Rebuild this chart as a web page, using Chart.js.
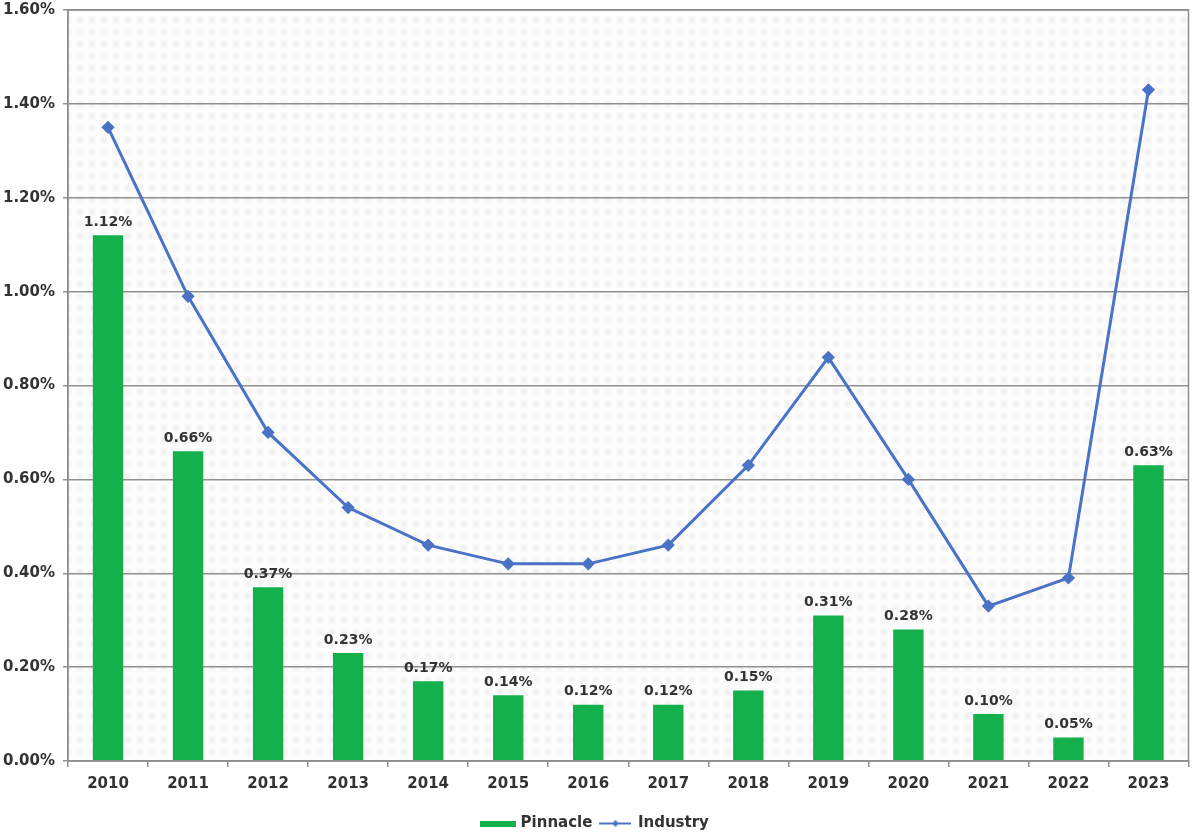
<!DOCTYPE html>
<html>
<head>
<meta charset="utf-8">
<title>Pinnacle vs Industry</title>
<script src="https://cdn.jsdelivr.net/npm/chart.js@4.4.1/dist/chart.umd.min.js"></script>
<style>
    html, body { margin: 0; padding: 0; background: #fff; }
    #wrap { width: 1196px; height: 833px; }
</style>
</head>
<body>
<div id="wrap"><canvas id="chart" width="1196" height="833"></canvas></div>
<script>
const years = ['2010', '2011', '2012', '2013', '2014', '2015', '2016', '2017', '2018', '2019', '2020', '2021', '2022', '2023'];
const pinnacle = [1.12, 0.66, 0.37, 0.23, 0.17, 0.14, 0.12, 0.12, 0.15, 0.31, 0.28, 0.10, 0.05, 0.63];
const industry = [1.35, 0.99, 0.70, 0.54, 0.46, 0.42, 0.42, 0.46, 0.63, 0.86, 0.60, 0.33, 0.39, 1.43];

const GREEN = '#13b04b';
const BLUE = '#4a72c6';
const TEXT = '#333333';
const GRID = '#8f8f8f';
const FONT = "'DejaVu Sans', Verdana, sans-serif";

// faint checkered texture behind the plot
function makePattern(ctx) {
    const tile = document.createElement('canvas');
    tile.width = 12;
    tile.height = 12;
    const t = tile.getContext('2d');
    t.fillStyle = '#f8f8f8';
    t.fillRect(0, 0, 12, 12);
    t.fillStyle = '#fdfdfd';
    t.fillRect(0, 0, 12, 4);
    t.fillRect(0, 0, 4, 12);
    t.fillStyle = '#f2f2f2';
    t.fillRect(6, 6, 4, 4);
    return ctx.createPattern(tile, 'repeat');
}

// legend symbols
function barSymbol() {
    const c = document.createElement('canvas');
    c.width = 36; c.height = 6;
    const g = c.getContext('2d');
    g.fillStyle = GREEN;
    g.fillRect(0, 0, 36, 6);
    return c;
}
function lineSymbol() {
    const c = document.createElement('canvas');
    c.width = 32; c.height = 8;
    const g = c.getContext('2d');
    g.strokeStyle = BLUE;
    g.lineWidth = 2;
    g.beginPath(); g.moveTo(0, 4); g.lineTo(32, 4); g.stroke();
    g.fillStyle = BLUE;
    g.beginPath(); g.moveTo(16, 0.5); g.lineTo(19.5, 4); g.lineTo(16, 7.5); g.lineTo(12.5, 4); g.closePath(); g.fill();
    return c;
}
const legendSymbols = [barSymbol(), lineSymbol()];

const plotBackground = {
    id: 'plotBackground',
    beforeDraw(chart) {
        const { ctx, chartArea: a } = chart;
        ctx.save();
        ctx.fillStyle = makePattern(ctx);
        ctx.fillRect(a.left, a.top, a.right - a.left, a.bottom - a.top);
        ctx.restore();
    },
    afterDraw(chart) {
        const { ctx, chartArea: a } = chart;
        ctx.save();
        ctx.strokeStyle = GRID;
        ctx.lineWidth = 1.5;
        ctx.strokeRect(a.left, a.top, a.right - a.left, a.bottom - a.top);
        ctx.restore();
    }
};

// percentage labels above each bar
const barLabels = {
    id: 'barLabels',
    afterDatasetsDraw(chart) {
        const { ctx } = chart;
        const meta = chart.getDatasetMeta(0);
        ctx.save();
        ctx.font = 'bold 14px ' + FONT;
        ctx.fillStyle = TEXT;
        ctx.textAlign = 'center';
        ctx.textBaseline = 'bottom';
        meta.data.forEach((bar, i) => {
            ctx.fillText(pinnacle[i].toFixed(2) + '%', bar.x, bar.y - 6);
        });
        ctx.restore();
    }
};

new Chart(document.getElementById('chart'), {
    type: 'bar',
    data: {
        labels: years,
        datasets: [{
            type: 'bar',
            label: 'Pinnacle',
            data: pinnacle,
            backgroundColor: GREEN,
            barPercentage: 0.38,
            categoryPercentage: 1,
            order: 2
        }, {
            type: 'line',
            label: 'Industry',
            data: industry,
            borderColor: BLUE,
            backgroundColor: BLUE,
            borderWidth: 3,
            pointStyle: 'rectRot',
            pointRadius: 4.5,
            pointHoverRadius: 4.5,
            tension: 0,
            order: 1
        }]
    },
    options: {
        responsive: false,
        animation: false,
        layout: { padding: { top: 10, right: 4, left: 0, bottom: -8 } },
        scales: {
            x: {
                offset: true,
                grid: { display: true, offset: true, drawOnChartArea: false, tickLength: 6, color: GRID, lineWidth: 1.5 },
                border: { color: GRID, width: 1.5 },
                ticks: { color: TEXT, font: { family: FONT, size: 15, weight: 'bold' }, padding: 8 },
                afterFit(scale) { scale.height = 47; scale.paddingLeft = 0; scale.paddingRight = 0; }
            },
            y: {
                min: 0,
                max: 1.6,
                ticks: {
                    stepSize: 0.2,
                    color: TEXT,
                    font: { family: FONT, size: 15, weight: 'bold' },
                    padding: 8,
                    callback: v => v.toFixed(2) + '%'
                },
                grid: { color: GRID, lineWidth: 1.5, tickLength: 5 },
                border: { color: GRID, width: 1.5 },
                afterFit(scale) { scale.width = 68; scale.paddingTop = 0; scale.paddingBottom = 0; }
            }
        },
        plugins: {
            legend: {
                position: 'bottom',
                labels: {
                    usePointStyle: true,
                    pointStyleWidth: 30,
                    color: TEXT,
                    font: { family: FONT, size: 15, weight: 'bold' },
                    padding: 8,
                    generateLabels(chart) {
                        const items = Chart.defaults.plugins.legend.labels.generateLabels(chart);
                        items.sort((a, b) => a.datasetIndex - b.datasetIndex);
                        items.forEach(item => { item.pointStyle = legendSymbols[item.datasetIndex]; });
                        return items;
                    }
                }
            },
            tooltip: { enabled: false }
        }
    },
    plugins: [plotBackground, barLabels]
});
</script>
</body>
</html>
